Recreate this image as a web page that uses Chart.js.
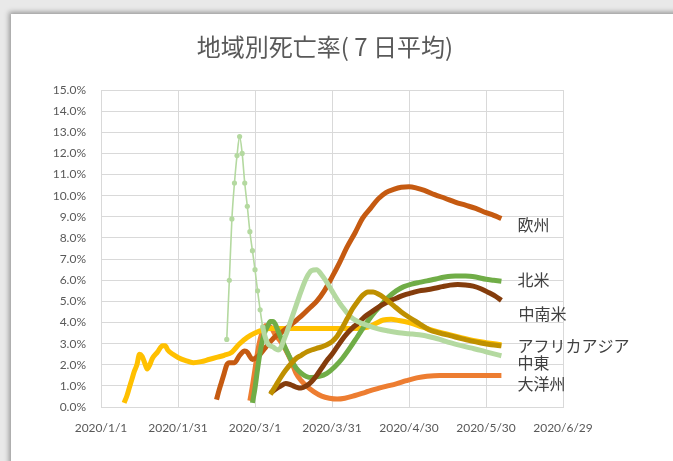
<!DOCTYPE html>
<html>
<head>
<meta charset="utf-8">
<script src="https://cdn.jsdelivr.net/npm/chart.js@4.4.1/dist/chart.umd.min.js"></script>
<style>
  html, body { margin: 0; padding: 0; }
  body { width: 673px; height: 461px; background: #e9e9e9; overflow: hidden; position: relative; }
  .frame { position: absolute; left: 11px; top: 14px; width: 700px; height: 470px; background: #fff;
           box-shadow: 0 0 5px 2px rgba(0, 0, 0, 0.35); }
  #chart { position: absolute; left: 0; top: 0; }
</style>
</head>
<body>
<div class="frame"><canvas id="chart" width="628" height="447"></canvas></div>
<script>
const chartTitle = '地域別死亡率( 7 日平均)';

// x axis: days since 2020/1/1, labelled every 30 days
const tickDays = [0, 30, 60, 90, 120, 150, 180];
const tickDates = ['2020/1/1', '2020/1/31', '2020/3/1', '2020/3/31', '2020/4/30', '2020/5/30', '2020/6/29'];

// death rate (%), 7-day average, per region
const asiaDays = [9, 10, 11, 12, 13, 14, 15, 16, 17, 18, 19, 20, 22, 24, 25, 26, 28, 30, 33, 36, 39, 42, 45, 48, 51, 54, 57, 60, 63, 66, 70, 75, 80, 85, 90, 95, 100, 104, 107, 110, 113, 116, 120, 125, 130, 135, 140, 145, 150, 156];
const asiaRate = [0.2, 0.5, 0.9, 1.3, 1.7, 2.0, 2.5, 2.4, 2.1, 1.8, 2.0, 2.3, 2.6, 2.9, 2.9, 2.7, 2.5, 2.35, 2.2, 2.1, 2.15, 2.25, 2.35, 2.45, 2.6, 3.0, 3.3, 3.5, 3.65, 3.72, 3.72, 3.72, 3.72, 3.72, 3.72, 3.72, 3.72, 3.78, 3.95, 4.12, 4.15, 4.1, 4.0, 3.8, 3.6, 3.45, 3.3, 3.15, 3.05, 2.95];

const europeDays = [45, 46, 47, 48, 49, 50, 52, 54, 56, 57, 58, 59, 60, 62, 64, 66, 68, 70, 72, 75, 78, 81, 84, 87, 90, 93, 96, 99, 102, 105, 108, 111, 114, 117, 120, 123, 126, 130, 134, 138, 142, 146, 150, 153, 156];
const europeRate = [0.35, 0.8, 1.2, 1.6, 2.0, 2.1, 2.1, 2.45, 2.65, 2.6, 2.4, 2.25, 2.3, 2.5, 2.8, 3.1, 3.35, 3.5, 3.7, 4.0, 4.3, 4.65, 5.0, 5.5, 6.15, 6.85, 7.6, 8.25, 8.95, 9.4, 9.85, 10.15, 10.3, 10.4, 10.42, 10.36, 10.25, 10.05, 9.88, 9.7, 9.55, 9.4, 9.2, 9.07, 8.92];

const northAmDays = [59, 60, 61, 62, 63, 64, 65, 66, 67, 68, 69, 70, 72, 74, 76, 78, 80, 82, 85, 88, 91, 94, 97, 100, 103, 106, 109, 112, 115, 118, 121, 124, 127, 130, 134, 138, 142, 146, 150, 153, 156];
const northAmRate = [0.2, 0.9, 1.8, 2.6, 3.2, 3.6, 3.85, 4.05, 4.05, 3.9, 3.6, 3.3, 2.75, 2.25, 1.85, 1.6, 1.45, 1.4, 1.45, 1.6, 1.9, 2.3, 2.8, 3.35, 3.9, 4.4, 4.8, 5.2, 5.5, 5.7, 5.82, 5.9, 5.97, 6.05, 6.15, 6.2, 6.2, 6.15, 6.05, 6.0, 5.95];

const latinAmDays = [66, 68, 70, 72, 74, 76, 78, 80, 82, 84, 86, 88, 90, 92, 94, 96, 98, 100, 103, 106, 109, 112, 115, 118, 121, 124, 127, 130, 133, 136, 139, 142, 145, 148, 151, 154, 156];
const latinAmRate = [0.65, 0.85, 1.0, 1.12, 1.05, 0.95, 0.9, 1.0, 1.2, 1.5, 1.85, 2.2, 2.5, 2.85, 3.2, 3.5, 3.75, 3.95, 4.3, 4.55, 4.8, 5.0, 5.15, 5.3, 5.4, 5.5, 5.55, 5.62, 5.7, 5.77, 5.8, 5.78, 5.72, 5.6, 5.42, 5.22, 5.05];

const africaDays = [66, 68, 70, 72, 74, 76, 78, 80, 82, 84, 86, 88, 90, 92, 94, 96, 98, 100, 102, 104, 106, 108, 110, 112, 114, 117, 120, 124, 128, 132, 136, 140, 144, 148, 152, 156];
const africaRate = [0.6, 1.0, 1.4, 1.75, 2.05, 2.3, 2.45, 2.6, 2.7, 2.78, 2.85, 2.95, 3.1, 3.35, 3.75, 4.2, 4.65, 5.0, 5.3, 5.45, 5.45, 5.35, 5.2, 5.0, 4.8, 4.5, 4.25, 3.95, 3.65, 3.5, 3.38, 3.25, 3.13, 3.03, 2.95, 2.9];

const middleEastDays = [49, 50, 51, 52, 53, 54, 55, 56, 57, 58, 59, 60, 61, 62, 63, 64, 65, 66, 67, 68, 69, 70, 71, 72, 73, 74, 76, 78, 80, 82, 84, 86, 88, 90, 92, 94, 97, 100, 104, 108, 112, 116, 120, 124, 128, 132, 136, 140, 144, 148, 152, 156];
const middleEastRate = [3.2, 6.0, 8.9, 10.6, 11.9, 12.8, 12.0, 10.6, 9.5, 8.3, 7.4, 6.5, 5.5, 4.6, 3.8, 3.3, 3.0, 2.9, 2.85, 2.75, 2.7, 2.8, 3.1, 3.4, 3.75, 4.1, 4.8, 5.5, 6.1, 6.45, 6.5, 6.25, 5.9, 5.5, 5.1, 4.75, 4.3, 4.05, 3.85, 3.7, 3.6, 3.52, 3.47, 3.42, 3.33, 3.2, 3.05, 2.92, 2.8, 2.68, 2.55, 2.43];

const oceaniaDays = [58, 59, 60, 61, 62, 63, 64, 66, 68, 70, 72, 74, 76, 78, 80, 83, 86, 89, 92, 95, 99, 103, 107, 111, 115, 119, 123, 127, 132, 140, 148, 156];
const oceaniaRate = [0.3, 1.0, 1.8, 2.6, 3.2, 3.6, 3.85, 3.8, 3.4, 3.1, 2.7, 2.2, 1.6, 1.25, 1.0, 0.72, 0.52, 0.42, 0.38, 0.42, 0.55, 0.7, 0.85, 0.98, 1.1, 1.25, 1.38, 1.46, 1.5, 1.5, 1.5, 1.5];

function points(days, rate) {
  return days.map((d, i) => ({ x: d, y: rate[i] }));
}

// name, colour, data, label offset from the last point [dx, dy], draw order
const series = [
  { name: '欧州', color: '#C55A11', data: points(europeDays, europeRate), off: [16, 6.5], order: 5 },
  { name: '北米', color: '#70AD47', data: points(northAmDays, northAmRate), off: [16, -1], order: 4 },
  { name: '中南米', color: '#843C0C', data: points(latinAmDays, latinAmRate), off: [17, 14], order: 3 },
  { name: 'アジア', color: '#FFC000', data: points(asiaDays, asiaRate), off: [80, 1], order: 6 },
  { name: 'アフリカ', color: '#BF9000', data: points(africaDays, africaRate), off: [16, 0], order: 1 },
  { name: '中東', color: '#B4D9A0', data: points(middleEastDays, middleEastRate), off: [16, 7], order: 2 },
  { name: '大洋州', color: '#ED7D31', data: points(oceaniaDays, oceaniaRate), off: [16, 8.5], order: 7 }
];

// title centred on the whole canvas, not just the plot
const centredTitle = {
  id: 'centredTitle',
  afterDraw(chart) {
    const ctx = chart.ctx;
    ctx.save();
    ctx.font = '24px "Noto Sans CJK JP"';
    ctx.fillStyle = '#595959';
    ctx.textAlign = 'center';
    ctx.textBaseline = 'middle';
    ctx.fillText(chartTitle, chart.width / 2, 33);
    ctx.restore();
  }
};

// series names written next to the end of each line
const endLabels = {
  id: 'endLabels',
  afterDatasetsDraw(chart) {
    const ctx = chart.ctx;
    ctx.save();
    ctx.font = '16px "Noto Sans CJK JP"';
    ctx.fillStyle = '#404040';
    ctx.textAlign = 'left';
    ctx.textBaseline = 'middle';
    chart.data.datasets.forEach((ds, i) => {
      const pts = chart.getDatasetMeta(i).data;
      const last = pts[pts.length - 1];
      ctx.fillText(ds.label, last.x + ds.labelOffset[0], last.y + ds.labelOffset[1]);
    });
    ctx.restore();
  }
};

const spikeEnd = 64;

new Chart(document.getElementById('chart'), {
  type: 'line',
  data: {
    datasets: series.map(s => ({
      label: s.name,
      data: s.data,
      borderColor: s.color,
      backgroundColor: s.color,
      borderWidth: 5,
      pointRadius: s.name === '中東' ? (c => (c.raw && c.raw.x < spikeEnd ? 2.6 : 0)) : 0,
      pointBorderWidth: 0,
      cubicInterpolationMode: 'monotone',
      segment: s.name === '中東' ? { borderWidth: c => (c.p0.parsed.x < spikeEnd - 1 ? 1.6 : 5) } : undefined,
      labelOffset: s.off,
      order: s.order
    }))
  },
  options: {
    responsive: false,
    animation: false,
    events: [],
    layout: { padding: { left: 0, right: 76, top: 76, bottom: 11.5 } },
    plugins: {
      legend: { display: false },
      tooltip: { enabled: false },
      title: { display: false }
    },
    scales: {
      x: {
        type: 'linear',
        min: 0,
        max: 180,
        afterBuildTicks: s => { s.ticks = tickDays.map(v => ({ value: v })); },
        ticks: {
          autoSkip: false,
          maxRotation: 0,
          padding: 14,
          color: '#595959',
          font: { family: 'Lato', size: 12 },
          callback: v => tickDates[tickDays.indexOf(v)] ?? ''
        },
        grid: { color: '#d9d9d9', lineWidth: 1, drawTicks: false },
        border: { color: '#d9d9d9' }
      },
      y: {
        min: 0,
        max: 15,
        afterFit: s => { s.width = 90; },
        ticks: {
          stepSize: 1,
          padding: 15,
          color: '#595959',
          font: { family: 'Lato', size: 12 },
          callback: v => v.toFixed(1) + '%'
        },
        grid: { color: '#d9d9d9', lineWidth: 1, drawTicks: false },
        border: { color: '#d9d9d9' }
      }
    }
  },
  plugins: [endLabels, centredTitle]
});
</script>
</body>
</html>
